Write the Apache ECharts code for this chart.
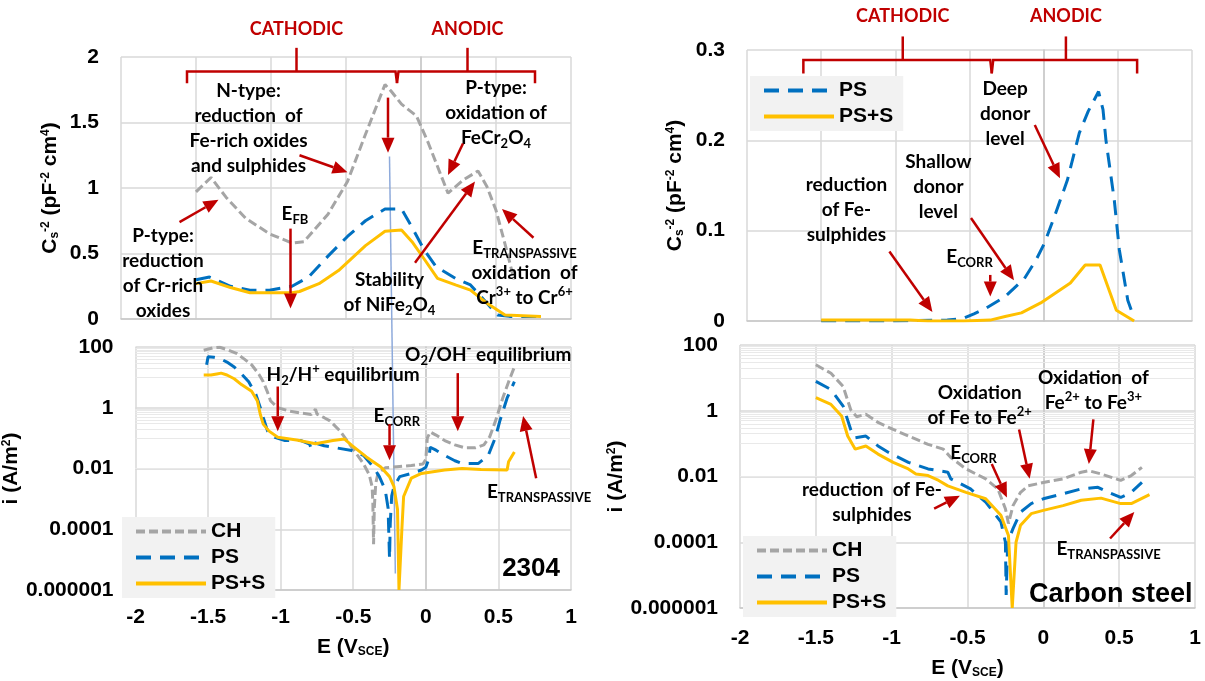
<!DOCTYPE html>
<html>
<head>
<meta charset="utf-8">
<script src="https://cdn.jsdelivr.net/npm/echarts@6/dist/echarts.min.js"></script>
<style>html,body{margin:0;padding:0;background:#fff}#main{width:1205px;height:681px}</style>
</head>
<body>
<div id="main"></div>
<script>
// ---- data : [E (V_SCE), value] ----
// 2304, Mott-Schottky  (Cs^-2)
var ms2304_CH  = [[-1.5,0.97],[-1.4,1.08],[-1.3,0.93],[-1.17,0.77],[-1.01,0.65],[-0.86,0.58],[-0.78,0.59],[-0.62,0.80],[-0.49,1.05],[-0.37,1.41],[-0.24,1.79],[-0.2,1.74],[-0.13,1.64],[-0.03,1.55],[0.05,1.34],[0.18,0.96],[0.28,1.06],[0.38,1.13],[0.44,1.01],[0.5,0.83],[0.57,0.53],[0.62,0.30]];
var ms2304_PS  = [[-1.5,0.30],[-1.41,0.32],[-1.27,0.25],[-1.14,0.22],[-1.01,0.22],[-0.86,0.25],[-0.75,0.32],[-0.62,0.48],[-0.49,0.63],[-0.37,0.75],[-0.24,0.84],[-0.13,0.84],[-0.06,0.70],[0.02,0.53],[0.1,0.40],[0.23,0.31],[0.33,0.26],[0.44,0.12],[0.51,0.03],[0.59,0.02],[0.8,0.02]];
var ms2304_PSS = [[-1.5,0.27],[-1.4,0.29],[-1.27,0.24],[-1.14,0.20],[-1.01,0.20],[-0.86,0.20],[-0.81,0.21],[-0.68,0.27],[-0.55,0.37],[-0.37,0.56],[-0.24,0.67],[-0.13,0.68],[-0.06,0.59],[0.02,0.46],[0.11,0.31],[0.23,0.26],[0.33,0.22],[0.44,0.12],[0.56,0.03],[0.8,0.02]];
// 2304, polarisation  (i, A/m2)
var pol2304_CH  = [[-1.53,78],[-1.47,93],[-1.42,98],[-1.36,79],[-1.3,60],[-1.25,40],[-1.2,26],[-1.15,12.6],[-1.12,7.2],[-1.09,3.2],[-1.07,1.7],[-1.02,1.0],[-0.94,0.78],[-0.85,0.66],[-0.79,0.60],[-0.76,0.89],[-0.75,0.62],[-0.7,0.47],[-0.66,0.37],[-0.59,0.17],[-0.51,0.050],[-0.43,0.0145],[-0.39,0.0063],[-0.37,0.0025],[-0.365,0.0008],[-0.36,0.000032],[-0.355,0.0005],[-0.345,0.0032],[-0.33,0.007],[-0.28,0.0105],[-0.2,0.0115],[-0.1,0.0126],[-0.02,0.014],[0.0,0.02],[0.01,0.1],[0.03,0.16],[0.07,0.126],[0.13,0.083],[0.2,0.060],[0.27,0.048],[0.34,0.048],[0.4,0.060],[0.44,0.11],[0.48,0.37],[0.53,2.1],[0.57,7.1],[0.61,22]];
var pol2304_PS  = [[-1.51,26],[-1.5,48],[-1.46,46],[-1.42,42],[-1.37,32],[-1.32,22],[-1.27,13],[-1.22,7.2],[-1.17,2.7],[-1.14,1.0],[-1.12,0.48],[-1.09,0.17],[-1.04,0.107],[-0.97,0.083],[-0.86,0.083],[-0.8,0.063],[-0.79,0.045],[-0.77,0.071],[-0.7,0.056],[-0.64,0.050],[-0.51,0.039],[-0.43,0.027],[-0.36,0.011],[-0.32,0.0054],[-0.28,0.002],[-0.26,0.0005],[-0.25,0.0000107],[-0.245,0.00016],[-0.235,0.00126],[-0.22,0.0025],[-0.18,0.0054],[-0.1,0.0069],[-0.03,0.0089],[0.0,0.011],[0.02,0.02],[0.03,0.05],[0.07,0.04],[0.13,0.027],[0.2,0.018],[0.25,0.0145],[0.36,0.0145],[0.43,0.027],[0.48,0.107],[0.51,0.37],[0.56,2.1],[0.61,7.2]];
var pol2304_PSS = [[-1.53,12],[-1.48,12],[-1.44,13],[-1.41,13.8],[-1.37,12],[-1.32,9],[-1.27,5.8],[-1.2,3.5],[-1.16,1.66],[-1.14,0.6],[-1.12,0.29],[-1.08,0.17],[-1.02,0.107],[-0.89,0.087],[-0.76,0.065],[-0.64,0.083],[-0.56,0.093],[-0.51,0.058],[-0.41,0.024],[-0.31,0.0112],[-0.25,0.0054],[-0.22,0.0026],[-0.195,0.00045],[-0.185,0.000001],[-0.175,0.000001],[-0.165,0.0001],[-0.153,0.0012],[-0.1,0.0048],[-0.03,0.0069],[0.13,0.0089],[0.25,0.010],[0.38,0.0093],[0.56,0.0089],[0.57,0.0166],[0.61,0.035]];
// carbon steel, Mott-Schottky
var msCS_PS  = [[-1.5,0.0],[-1.0,0.0],[-0.65,0.001],[-0.54,0.003],[-0.47,0.008],[-0.39,0.014],[-0.26,0.027],[-0.13,0.047],[-0.05,0.068],[0.005,0.086],[0.08,0.119],[0.16,0.156],[0.24,0.208],[0.3,0.232],[0.37,0.254],[0.4,0.234],[0.42,0.2],[0.476,0.134],[0.51,0.079],[0.567,0.023],[0.606,0.005]];
var msCS_PSS = [[-1.5,0.001],[-0.9,0.001],[-0.78,0.0],[-0.54,0.0],[-0.36,0.001],[-0.26,0.005],[-0.15,0.009],[-0.02,0.020],[0.08,0.031],[0.18,0.042],[0.28,0.062],[0.38,0.062],[0.49,0.012],[0.61,0.0]];
// carbon steel, polarisation
var polCS_CH  = [[-1.5,25],[-1.4,13.8],[-1.32,5.5],[-1.27,1.07],[-1.23,0.66],[-1.17,0.78],[-1.09,0.44],[-0.99,0.27],[-0.89,0.17],[-0.76,0.095],[-0.66,0.068],[-0.61,0.038],[-0.51,0.017],[-0.38,0.0085],[-0.3,0.0042],[-0.25,0.00105],[-0.23,0.00037],[-0.2,0.0013],[-0.15,0.0033],[-0.1,0.0052],[0.0,0.0066],[0.13,0.0085],[0.25,0.0135],[0.3,0.015],[0.38,0.012],[0.51,0.0076],[0.58,0.0107],[0.65,0.019]];
var polCS_PS  = [[-1.5,7.8],[-1.4,4.4],[-1.32,1.38],[-1.27,0.27],[-1.24,0.15],[-1.17,0.17],[-1.09,0.085],[-1.02,0.054],[-0.89,0.027],[-0.76,0.017],[-0.63,0.0135],[-0.61,0.0085],[-0.48,0.0042],[-0.38,0.00166],[-0.28,0.00042],[-0.25,0.0001],[-0.245,0.0000025],[-0.235,0.0001],[-0.2,0.00026],[-0.15,0.00083],[-0.08,0.0015],[0.0,0.0021],[0.13,0.003],[0.25,0.0042],[0.36,0.0047],[0.43,0.0033],[0.51,0.0023],[0.58,0.0033],[0.65,0.0066]];
var polCS_PSS = [[-1.5,2.5],[-1.4,1.55],[-1.33,0.69],[-1.29,0.17],[-1.24,0.068],[-1.17,0.085],[-1.09,0.048],[-0.99,0.027],[-0.89,0.017],[-0.84,0.012],[-0.76,0.0107],[-0.69,0.0076],[-0.63,0.0052],[-0.51,0.0033],[-0.38,0.0021],[-0.28,0.00066],[-0.23,0.00016],[-0.205,0.000001],[-0.195,0.000001],[-0.18,0.0001],[-0.15,0.00033],[-0.08,0.00074],[0.0,0.00093],[0.13,0.0013],[0.25,0.0019],[0.38,0.0022],[0.51,0.0015],[0.58,0.0015],[0.7,0.0028]];

var xTicks = [-2, 1, 0.5];          // min, max, step
var logMinorMult = [1,2,3,4,5,6,7,8,9];
var logMinorExp = [-5,-3,-1,1];

var fontAx = '"Liberation Sans", Arial, sans-serif';
var fontAnn = 'Lato, "Open Sans", sans-serif';
var red = '#c00000';
var styles = {
  'CH':   {color:'#a5a5a5', type:[9,4]},
  'PS':   {color:'#0070c0', type:[15,9]},
  'PS+S': {color:'#ffc000', type:'solid'}
};

var minorLines = [];
logMinorExp.forEach(function(e){ logMinorMult.forEach(function(k){ minorLines.push({yAxis: k*Math.pow(10,e)}); }); });

function mk(name, data, gi, minor){
  var s = {
    name:name, type:'line', xAxisIndex:gi, yAxisIndex:gi, data:data,
    symbol:'none', showSymbol:false, silent:true, z:3,
    lineStyle:{width:3, color:styles[name].color, type:styles[name].type},
    itemStyle:{color:styles[name].color}
  };
  if(minor){
    s.markLine = {silent:true, symbol:'none', z:1, label:{show:false},
      lineStyle:{color:'#e9e9e9', width:1, type:'solid'}, data:minorLines, animation:false};
  }
  return s;
}
var subRich = {
  sub:{fontSize:12, fontWeight:'bold', fontFamily:fontAx, verticalAlign:'bottom', lineHeight:14},
  sup:{fontSize:12, fontWeight:'bold', fontFamily:fontAx, verticalAlign:'top', lineHeight:12}
};
function xAx(gi, showLabel, nameGap, margin){
  return {
    type:'value', gridIndex:gi, min:xTicks[0], max:xTicks[1], interval:xTicks[2],
    axisTick:{show:false},
    axisLine:{lineStyle:{color:'#c8c8c8', width:1.5}},
    splitLine:{lineStyle:{color:'#d9d9d9', width:1.5}},
    axisLabel:{show:showLabel, color:'#000', fontSize:21, fontWeight:'bold', fontFamily:fontAx, margin:margin},
    name: showLabel ? 'E (V{sub|SCE})' : '', nameLocation:'middle', nameGap:nameGap,
    nameTextStyle:{color:'#000', fontSize:21, fontWeight:'bold', fontFamily:fontAx, rich:subRich}
  };
}
function logLabel(v){
  var e = Math.round(Math.log(v)/Math.LN10);
  if(e >= 0) return String(Math.pow(10,e));
  return '0.' + new Array(-e).join('0') + '1';
}
function yAx(gi, isLog, max, step, name, nameGap){
  var a = {
    gridIndex:gi, axisTick:{show:false},
    axisLine:{show:true, lineStyle:{color:'#c8c8c8', width:1.5}},
    splitLine:{lineStyle:{color:'#d9d9d9', width:1.5}},
    axisLabel:{color:'#000', fontSize:21, fontWeight:'bold', fontFamily:fontAx, margin:22},
    name:name, nameLocation:'middle', nameGap:nameGap, nameRotate:90,
    nameTextStyle:{color:'#000', fontSize:21, fontWeight:'bold', fontFamily:fontAx, rich:subRich}
  };
  if(isLog){
    a.type='log'; a.logBase=100; a.min=0.000001; a.max=100;
    a.axisLabel.formatter = logLabel;
  } else {
    a.type='value'; a.min=0; a.max=max; a.interval=step;
  }
  return a;
}
var legendBase = {
  orient:'vertical', selectedMode:false, backgroundColor:'#f2f2f2',
  padding:[4,10,4,12], itemWidth:70, itemHeight:2, itemGap:5,
  itemStyle:{opacity:0}, lineStyle:{width:4},
  textStyle:{color:'#000', fontSize:21, fontWeight:'bold', fontFamily:fontAx}
};
function lg(data, left, top){ return Object.assign({}, legendBase, {data:data, left:left, top:top}); }

var chart = echarts.init(document.getElementById('main'));
chart.setOption({
  animation:false,
  backgroundColor:'#fff',
  grid:[
    {left:121, top:57, width:450, height:262},
    {left:121, top:347, width:450, height:243},
    {left:747, top:50, width:445, height:271},
    {left:740, top:345, width:455, height:263}
  ],
  xAxis:[xAx(0,false,0,0), xAx(1,true,47,17), xAx(2,false,0,0), xAx(3,true,50,20)],
  yAxis:[
    yAx(0,false,2,0.5,'C{sub|s}{sup|-2} (pF{sup|-2} cm{sup|4})',60),
    yAx(1,true,0,0,'i (A/m{sup|2})',74),
    yAx(2,false,0.3,0.1,'C{sub|s}{sup|-2} (pF{sup|-2} cm{sup|4})',61),
    yAx(3,true,0,0,'i (A/m{sup|2})',80)
  ],
  legend:[
    lg(['CH','PS','PS+S'],122,517),
    lg(['PS','PS+S'],750,76),
    lg(['CH','PS','PS+S'],743,536)
  ],
  series:[
    mk('CH',ms2304_CH,0), mk('PS',ms2304_PS,0), mk('PS+S',ms2304_PSS,0),
    mk('CH',pol2304_CH,1,true), mk('PS',pol2304_PS,1), mk('PS+S',pol2304_PSS,1),
    mk('PS',msCS_PS,2), mk('PS+S',msCS_PSS,2),
    mk('CH',polCS_CH,3,true), mk('PS',polCS_PS,3), mk('PS+S',polCS_PSS,3)
  ]
});

// ---- annotations, placed in data coordinates ----
var texts = [
  [0,[-0.83,2.21],'CATHODIC',red],[0,[0.31,2.21],'ANODIC',red],
  [0,[-1.15,1.455],'N-type:\nreduction  of\nFe-rich oxides\nand sulphides'],
  [0,[-1.72,0.35],'P-type:\nreduction\nof Cr-rich\noxides'],
  [0,[-0.84,0.80],'E{sub|FB}'],
  [0,[0.50,1.575],'P-type:\noxidation of\nFeCr{sub|2}O{sub|4}'],
  [0,[-0.21,0.205],'Stability\nof NiFe{sub|2}O{sub|4}'],
  [0,[0.69,0.355],'E{sub|TRANSPASSIVE}\noxidation  of\nCr{sup|3+} to Cr{sup|6+}'],
  [1,[-0.57,12],'H{sub|2}/H{sup|+} equilibrium'],
  [1,[-0.20,0.54],'E{sub|CORR}'],
  [1,[0.43,54],'O{sub|2}/OH{sup|-} equilibrium'],
  [1,[0.78,0.0017],'E{sub|TRANSPASSIVE}'],
  [2,[-0.95,0.337],'CATHODIC',red],[2,[0.15,0.337],'ANODIC',red],
  [2,[-0.26,0.229],'Deep\ndonor\nlevel'],
  [2,[-0.71,0.148],'Shallow\ndonor\nlevel'],
  [2,[-1.33,0.123],'reduction\nof Fe-\nsulphides'],
  [2,[-0.50,0.071],'E{sub|CORR}'],
  [3,[-0.42,1.45],'Oxidation\nof Fe to Fe{sup|2+}'],
  [3,[0.33,4.3],'Oxidation  of\nFe{sup|2+} to Fe{sup|3+}'],
  [3,[-0.46,0.054],'E{sub|CORR}'],
  [3,[-1.13,0.00166],'reduction  of Fe-\nsulphides'],
  [3,[0.43,0.000065],'E{sub|TRANSPASSIVE}']
];
var bigTexts = [[1,[0.725,0.0000048],'2304',26],[3,[0.444,0.0000025],'Carbon steel',27]];
var arrows = [
  [0,[-0.81,1.25],[-0.49,1.12]],[0,[-1.61,0.74],[-1.35,0.91]],[0,[-0.87,0.69],[-0.87,0.08]],
  [0,[-0.22,1.69],[-0.22,1.27]],[0,[0.28,1.34],[0.18,1.10]],[0,[-0.04,0.43],[0.36,1.05]],[0,[0.75,0.62],[0.54,0.84]],
  [1,[-1.02,5.0],[-1.02,0.17]],[1,[-0.25,0.29],[-0.25,0.0186]],[1,[0.22,13.8],[0.22,0.17]],[1,[0.76,0.0048],[0.67,0.54]],
  [2,[-0.06,0.217],[0.11,0.158]],[2,[-0.49,0.114],[-0.20,0.045]],[2,[-1.04,0.077],[-0.75,0.010]],[2,[-0.36,0.051],[-0.36,0.027]],
  [3,[-0.16,0.27],[-0.09,0.0085]],[3,[0.33,0.55],[0.30,0.024]],[3,[-0.34,0.024],[-0.24,0.0023]],
  [3,[-0.72,0.00105],[-0.55,0.0026]],[3,[0.44,0.00013],[0.60,0.00083]]
];
// braces: [grid, left, junction, right, level, tip, top, cathodic centre, anodic centre]
var braces = [[0,-1.56,-0.16,0.76,1.89,1.80,2.07,-0.83,0.31],[2,-1.62,-0.35,0.63,0.289,0.274,0.315,-0.95,0.15]];

function px(gi, p){ return chart.convertToPixel({gridIndex:gi}, p); }
var g = [];
var annRich = {
  sub:{fontSize:13, fontWeight:'bold', fontFamily:fontAnn, verticalAlign:'bottom', lineHeight:17},
  sup:{fontSize:13, fontWeight:'bold', fontFamily:fontAnn, verticalAlign:'top', lineHeight:15}
};
texts.forEach(function(t){
  var p = px(t[0], t[1]);
  var sz = t[3] ? 18 : 19;
  g.push({type:'text', x:p[0], y:p[1], z:100, silent:true, style:{
    text:t[2], fill:t[3]||'#000', font:'bold '+sz+'px '+fontAnn, lineHeight:25,
    align:'center', verticalAlign:'middle', textAlign:'center', textVerticalAlign:'middle', rich:annRich}});
});
bigTexts.forEach(function(t){
  var p = px(t[0], t[1]);
  g.push({type:'text', x:p[0], y:p[1], z:100, silent:true, style:{
    text:t[2], fill:'#000', font:'bold '+t[3]+'px '+fontAx,
    align:'center', verticalAlign:'middle', textAlign:'center', textVerticalAlign:'middle'}});
});
arrows.forEach(function(a){
  var p1 = px(a[0], a[1]), p2 = px(a[0], a[2]);
  var dx = p2[0]-p1[0], dy = p2[1]-p1[1], L = Math.sqrt(dx*dx+dy*dy);
  var ux = dx/L, uy = dy/L, hl = 15, hw = 6.5;
  var bx = p2[0]-ux*hl, by = p2[1]-uy*hl;
  g.push({type:'line', z:100, silent:true, shape:{x1:p1[0], y1:p1[1], x2:bx, y2:by}, style:{stroke:red, lineWidth:2.5}});
  g.push({type:'polygon', z:100, silent:true, shape:{points:[[p2[0],p2[1]],[bx-uy*hw,by+ux*hw],[bx+uy*hw,by-ux*hw]]}, style:{fill:red}});
});
braces.forEach(function(b){
  var gi=b[0];
  var left = [[b[1],b[5]],[b[1],b[4]],[b[2]-0.01,b[4]],[b[2],b[5]]].map(function(q){return px(gi,q);});
  var right = [[b[2],b[5]],[b[2]+0.01,b[4]],[b[3],b[4]],[b[3],b[5]]].map(function(q){return px(gi,q);});
  g.push({type:'polyline', z:100, silent:true, shape:{points:left}, style:{stroke:red, lineWidth:2.5, fill:null}});
  g.push({type:'polyline', z:100, silent:true, shape:{points:right}, style:{stroke:red, lineWidth:2.5, fill:null}});
  [b[7],b[8]].forEach(function(c){
    var a1 = px(gi,[c,b[4]]), a2 = px(gi,[c,b[6]]);
    g.push({type:'line', z:100, silent:true, shape:{x1:a1[0], y1:a1[1], x2:a2[0], y2:a2[1]}, style:{stroke:red, lineWidth:2.5}});
  });
});
// thin E_corr marker line crossing both 2304 panels
var v1 = px(0,[-0.21,1.24]), v2 = px(1,[-0.21,0.0000035]);
g.push({type:'line', z:2, silent:true, shape:{x1:v1[0], y1:v1[1], x2:v2[0], y2:v2[1]}, style:{stroke:'#8eaadb', lineWidth:1.5}});
chart.setOption({graphic:g});
</script>
</body>
</html>
